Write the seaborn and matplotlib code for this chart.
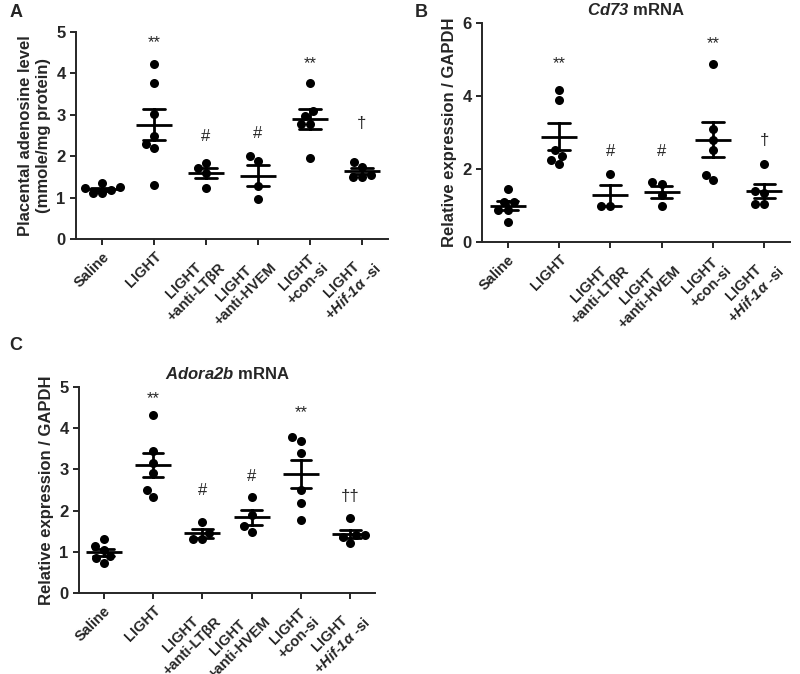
import numpy as np
import pandas as pd
import matplotlib
matplotlib.use("Agg")
import matplotlib.pyplot as plt
import seaborn as sns

sns.set_style("ticks")
plt.rcParams["font.family"] = ["Liberation Sans", "DejaVu Sans"]
plt.rcParams["font.weight"] = "bold"
plt.rcParams["mathtext.fontset"] = "custom"
plt.rcParams["mathtext.rm"] = "Liberation Sans:bold"
plt.rcParams["mathtext.it"] = "Liberation Sans:italic:bold"
plt.rcParams["mathtext.sf"] = "Liberation Sans:italic:bold"
plt.rcParams["mathtext.bf"] = "Liberation Sans:bold"

# --- data ---
groups = ["Saline", "LIGHT", "LIGHT\n+anti-LTβR", "LIGHT\n+anti-HVEM",
          "LIGHT\n+con-si", "LIGHT\n+$\\mathsf{Hif}$-$\\mathsf{1α}$ -si"]

adenosine = [
    [1.22, 1.10, 1.25, 1.10, 1.36, 1.18],
    [4.22, 3.76, 3.03, 2.50, 2.30, 2.19, 1.31],
    [1.71, 1.83, 1.59, 1.24],
    [2.01, 1.88, 1.27, 0.97],
    [3.76, 3.10, 2.97, 2.78, 2.78, 1.95],
    [1.75, 1.87, 1.50, 1.50, 1.55],
]
cd73 = [
    [1.46, 1.10, 1.10, 0.87, 0.87, 0.55],
    [4.16, 3.90, 2.51, 2.36, 2.26, 2.13],
    [1.87, 0.98, 0.98],
    [1.64, 1.58, 1.28, 0.98],
    [4.89, 3.10, 2.79, 2.51, 1.85, 1.69],
    [2.15, 1.40, 1.35, 1.05, 1.05],
]
adora2b = [
    [1.13, 1.05, 1.31, 0.89, 0.85, 0.73],
    [4.33, 3.44, 3.16, 2.91, 2.49, 2.33],
    [1.72, 1.46, 1.30, 1.30],
    [2.34, 1.89, 1.49, 1.63],
    [3.69, 3.78, 3.39, 2.50, 2.18, 1.77],
    [1.81, 1.41, 1.37, 1.22, 1.40],
]

# significance marks: (group index, label, y)
marks_a = [(1, "**", 4.75), (2, "#", 2.47), (3, "#", 2.55), (4, "**", 4.24), (5, "†", 2.78)]
marks_b = [(1, "**", 4.89), (2, "#", 2.49), (3, "#", 2.47), (4, "**", 5.43), (5, "†", 2.79)]
marks_c = [(1, "**", 4.72), (2, "#", 2.48), (3, "#", 2.82), (4, "**", 4.38), (5, "††", 2.34)]


def to_long(values):
    rows = [(g, v) for g, vals in zip(groups, values) for v in vals]
    return pd.DataFrame(rows, columns=["group", "value"])


def panel(ax, values, ymax, yticks, ylabel, marks):
    df = to_long(values)
    sns.swarmplot(data=df, x="group", y="value", order=groups, color="black",
                  size=6.5, ax=ax, zorder=2)
    sns.pointplot(data=df, x="group", y="value", order=groups, errorbar="se",
                  capsize=0.42, linestyle="none", marker="_", markersize=26,
                  markeredgewidth=2.0, color="black", err_kws={"linewidth": 2.0},
                  ax=ax, zorder=3)
    for i, txt, y in marks:
        ax.text(i, y, txt, ha="center", va="center", fontsize=12,
                fontweight="normal")
    ax.set_xlim(-0.5, 5.5)
    ax.set_ylim(0, ymax)
    ax.set_yticks(yticks)
    ax.set_xlabel("")
    ax.set_ylabel(ylabel, fontsize=12, fontweight="bold")
    ax.set_xticks(range(len(groups)))
    ax.set_xticklabels(groups, rotation=45, ha="right", rotation_mode="anchor",
                       multialignment="center", fontsize=10.5, fontweight="bold")
    for lab in ax.get_yticklabels():
        lab.set_fontsize(12)
        lab.set_fontweight("bold")
    for s in ["left", "bottom"]:
        ax.spines[s].set_linewidth(1.4)
    sns.despine(ax=ax)
    ax.tick_params(width=1.4, length=4)


fig = plt.figure(figsize=(8, 6.74), dpi=100)
ax_a = fig.add_axes([0.095, 0.6454, 0.39, 0.3071])
ax_b = fig.add_axes([0.6025, 0.6409, 0.385, 0.3249])
ax_c = fig.add_axes([0.09875, 0.1202, 0.37, 0.3056])

panel(ax_a, adenosine, 5, range(0, 6),
      "Placental adenosine level\n(mmole/mg protein)", marks_a)
panel(ax_b, cd73, 6, [0, 2, 4, 6], "Relative expression / GAPDH", marks_b)
panel(ax_c, adora2b, 5, range(0, 6), "Relative expression / GAPDH", marks_c)

ax_b.set_title("$\\mathsf{Cd73}$ mRNA", fontsize=12, fontweight="bold", pad=6)
ax_c.set_title("$\\mathsf{Adora2b}$ mRNA", fontsize=12, fontweight="bold", pad=6)

fig.text(0.012, 0.982, "A", fontsize=13, fontweight="bold", va="center")
fig.text(0.518, 0.982, "B", fontsize=13, fontweight="bold", va="center")
fig.text(0.012, 0.488, "C", fontsize=13, fontweight="bold", va="center")

fig.savefig("out.png", dpi=100)
